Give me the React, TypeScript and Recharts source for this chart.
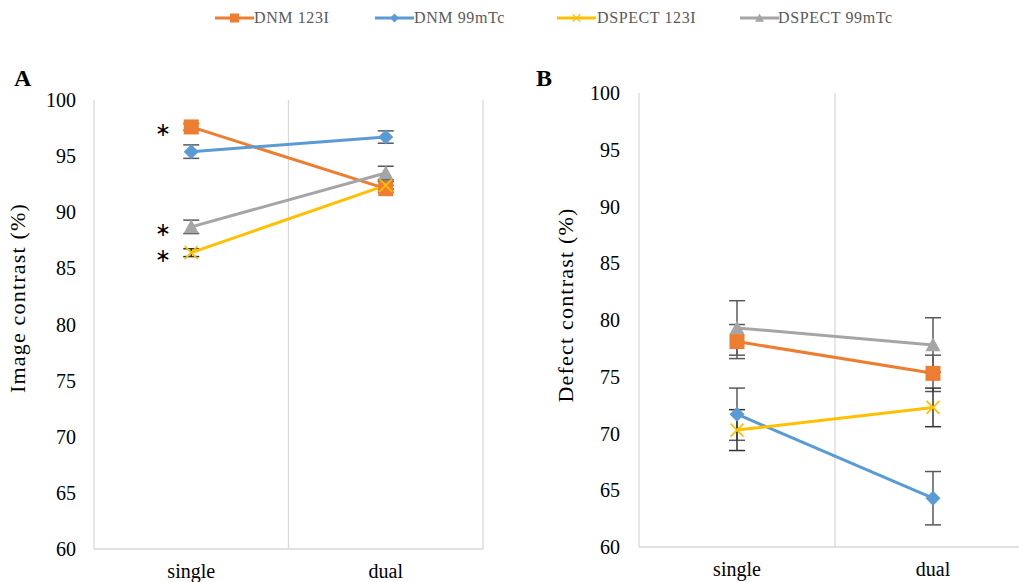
import React from 'react';
import { LineChart, Line, XAxis, YAxis, CartesianGrid, ErrorBar, LabelList } from 'recharts';

const categories = ['single', 'dual'];

// Panel A: Image contrast (%)
const aDnm123 = [97.6, 92.1];
const aDnm123Err = [0.3, 0.3];
const aDnm99 = [95.4, 96.7];
const aDnm99Err = [0.6, 0.55];
const aDspect123 = [86.4, 92.4];
const aDspect123Err = [0.35, 0.35];
const aDspect99 = [88.7, 93.5];
const aDspect99Err = [0.6, 0.6];
const aMarks = ['*', '', '*', '*']; // significance marks at "single", per series

// Panel B: Defect contrast (%)
const bDnm123 = [78.1, 75.3];
const bDnm123Err = [1.5, 1.6];
const bDnm99 = [71.7, 64.3];
const bDnm99Err = [2.3, 2.35];
const bDspect123 = [70.3, 72.3];
const bDspect123Err = [1.8, 1.7];
const bDspect99 = [79.3, 77.8];
const bDspect99Err = [2.4, 2.4];

const yTicks = [60, 65, 70, 75, 80, 85, 90, 95, 100];
const seriesNames = ['DNM 123I', 'DNM 99mTc', 'DSPECT 123I', 'DSPECT 99mTc'];

const COLORS = ['#ED7D31', '#5B9BD5', '#FFC000', '#A5A5A5'];
const FONT = '"Liberation Serif", "Times New Roman", serif';

const buildRows = (vals: number[][], errs: number[][], marks?: string[]) =>
  categories.map((c, i) => ({
    cat: c,
    s0: vals[0][i], e0: errs[0][i], m0: i === 0 && marks ? marks[0] : '',
    s1: vals[1][i], e1: errs[1][i], m1: i === 0 && marks ? marks[1] : '',
    s2: vals[2][i], e2: errs[2][i], m2: i === 0 && marks ? marks[2] : '',
    s3: vals[3][i], e3: errs[3][i], m3: i === 0 && marks ? marks[3] : '',
  }));

const dataA = buildRows(
  [aDnm123, aDnm99, aDspect123, aDspect99],
  [aDnm123Err, aDnm99Err, aDspect123Err, aDspect99Err],
  aMarks
);
const dataB = buildRows(
  [bDnm123, bDnm99, bDspect123, bDspect99],
  [bDnm123Err, bDnm99Err, bDspect123Err, bDspect99Err]
);

const Marker = ({ kind, cx, cy, scale = 1 }: { kind: number; cx: number; cy: number; scale?: number }) => {
  const c = COLORS[kind];
  if (kind === 0) {
    const s = 7.5 * scale;
    return <rect x={cx - s} y={cy - s} width={2 * s} height={2 * s} fill={c} />;
  }
  if (kind === 1) {
    const s = 7.5 * scale;
    return <polygon points={`${cx},${cy - s} ${cx + s},${cy} ${cx},${cy + s} ${cx - s},${cy}`} fill={c} />;
  }
  if (kind === 2) {
    const s = 6.5 * scale;
    return (
      <g stroke={c} strokeWidth={1.8 * Math.max(scale, 0.7)}>
        <line x1={cx - s} y1={cy - s} x2={cx + s} y2={cy + s} />
        <line x1={cx - s} y1={cy + s} x2={cx + s} y2={cy - s} />
      </g>
    );
  }
  const s = 7.5 * scale;
  return <polygon points={`${cx},${cy - s} ${cx + s},${cy + s * 0.85} ${cx - s},${cy + s * 0.85}`} fill={c} />;
};

const makeDot = (kind: number) => (props: any) => {
  const { cx, cy, index } = props;
  if (cx == null || cy == null) return <g key={`d${kind}-${index}`} />;
  return (
    <g key={`d${kind}-${index}`}>
      <Marker kind={kind} cx={cx} cy={cy} />
    </g>
  );
};

const AsteriskLabel = (props: any) => {
  const { x, y, value } = props;
  if (!value) return null;
  return (
    <text x={x - 28} y={y + 9} textAnchor="middle" fontSize={19} fontFamily={FONT} fill="#000">
      ∗
    </text>
  );
};

const gridGen = ({ offset }: any) => [offset.left, offset.left + offset.width / 2, offset.left + offset.width];

const errColors = ['#595959', '#595959', '#333333', '#595959'];

const Panel = ({ data, margin, width, yWidth, tickMargin, showMarks }: any) => (
  <LineChart width={width} height={582} data={data} margin={margin}>
    <CartesianGrid horizontal={false} vertical stroke="#D9D9D9" strokeWidth={1.3} verticalCoordinatesGenerator={gridGen} />
    <XAxis
      dataKey="cat"
      scale="band"
      axisLine={{ stroke: '#D9D9D9', strokeWidth: 1.5 }}
      tickLine={false}
      tickMargin={9}
      height={30}
      tick={{ fontSize: 20, fill: '#000', fontFamily: FONT }}
    />
    <YAxis
      type="number"
      domain={[60, 100]}
      ticks={yTicks}
      interval={0}
      width={yWidth}
      axisLine={false}
      tickLine={false}
      tickMargin={tickMargin}
      tick={{ fontSize: 20, fill: '#000', fontFamily: FONT }}
    />
    {[0, 1, 2, 3].map((k) => (
      <Line
        key={k}
        type="linear"
        dataKey={`s${k}`}
        name={seriesNames[k]}
        stroke={COLORS[k]}
        strokeWidth={3}
        dot={makeDot(k)}
        activeDot={false}
        isAnimationActive={false}
      >
        <ErrorBar dataKey={`e${k}`} width={8} stroke={errColors[k]} strokeWidth={1.5} direction="y" isAnimationActive={false} />
        {showMarks ? <LabelList dataKey={`m${k}`} content={AsteriskLabel} /> : null}
      </Line>
    ))}
  </LineChart>
);

const legendPos = [
  { line: 215, text: 254 },
  { line: 375, text: 414 },
  { line: 557, text: 597 },
  { line: 740, text: 778 },
];

export default function App() {
  return (
    <div
      style={{
        position: 'fixed',
        left: 0,
        top: 0,
        width: 1019,
        height: 582,
        overflow: 'hidden',
        background: '#fff',
        fontFamily: FONT,
      }}
    >
      {/* Legend */}
      {seriesNames.map((n, k) => (
        <div key={n}>
          <svg style={{ position: 'absolute', left: legendPos[k].line, top: 10 }} width={40} height={16}>
            <line x1={0} y1={8} x2={39} y2={8} stroke={COLORS[k]} strokeWidth={3} />
            <Marker kind={k} cx={19.5} cy={8} scale={0.6} />
          </svg>
          <div
            style={{
              position: 'absolute',
              left: legendPos[k].text,
              top: 7,
              fontSize: 16,
              lineHeight: '22px',
              color: '#595959',
              letterSpacing: 0.6,
              whiteSpace: 'nowrap',
            }}
          >
            {n}
          </div>
        </div>
      ))}

      {/* Panel titles */}
      <div style={{ position: 'absolute', left: 14, top: 64, fontSize: 24, fontWeight: 'bold', lineHeight: '28px' }}>A</div>
      <div style={{ position: 'absolute', left: 536, top: 64, fontSize: 24, fontWeight: 'bold', lineHeight: '28px' }}>B</div>

      {/* Y axis titles */}
      <div
        style={{
          position: 'absolute',
          left: 18,
          top: 298,
          transform: 'translate(-50%, -50%) rotate(-90deg)',
          fontSize: 22,
          letterSpacing: 1.2,
          whiteSpace: 'nowrap',
          lineHeight: '26px',
        }}
      >
        Image contrast (%)
      </div>
      <div
        style={{
          position: 'absolute',
          left: 566,
          top: 305,
          transform: 'translate(-50%, -50%) rotate(-90deg)',
          fontSize: 22,
          letterSpacing: 1.2,
          whiteSpace: 'nowrap',
          lineHeight: '26px',
        }}
      >
        Defect contrast (%)
      </div>

      <div style={{ position: 'absolute', left: 0, top: 0 }}>
        <Panel data={dataA} width={500} yWidth={94} tickMargin={12} showMarks margin={{ top: 100, right: 17, bottom: 3, left: 0 }} />
      </div>
      <div style={{ position: 'absolute', left: 500, top: 0 }}>
        <Panel data={dataB} width={560} yWidth={139} tickMargin={13} showMarks={false} margin={{ top: 93, right: 29, bottom: 5, left: 0 }} />
      </div>
    </div>
  );
}
